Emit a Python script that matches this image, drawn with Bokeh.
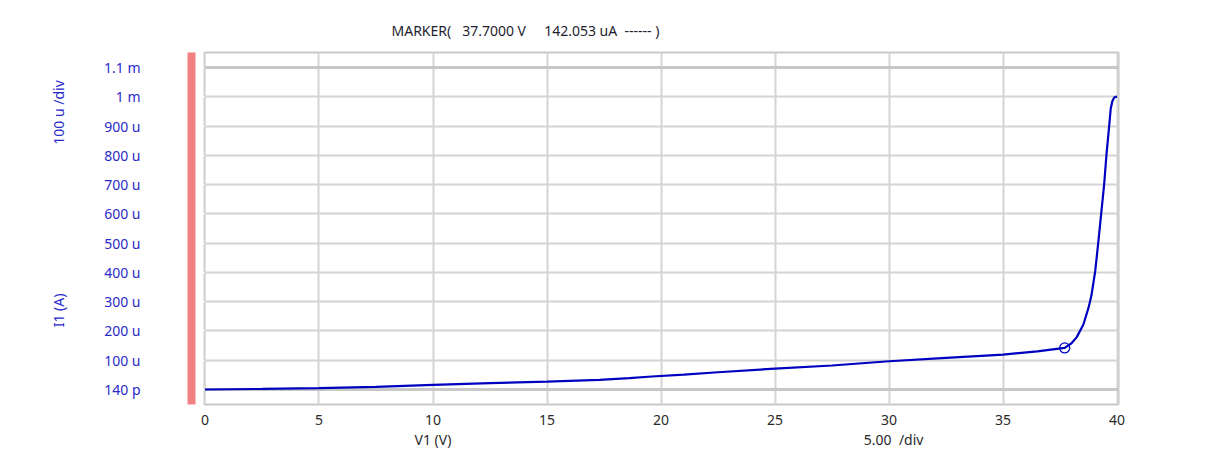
from math import pi
from bokeh.plotting import figure
from bokeh.models import Range1d, LinearAxis, FixedTicker, Grid
from bokeh.embed import file_html
from bokeh.resources import INLINE

# ---- data ----
v1_volts = [0, 2.5, 5, 7.5, 10, 12.5, 15, 17.3, 18.6, 19.6, 21, 22.5, 25, 27.5,
            30, 32.5, 35, 36.5, 37.7, 38.0, 38.23, 38.52, 38.74, 38.87, 39.04,
            39.17, 39.3, 39.43, 39.53, 39.65, 39.72, 39.79, 39.86, 39.92, 40.0]
i1_uA = [0.00014, 2, 5, 9, 16, 21.5, 27, 32.8, 38.6, 44.4, 51, 59, 71.5, 82,
         96.5, 108, 119.5, 130, 142.053, 158, 179, 222, 278, 320, 405,
         500, 600, 700, 800, 900, 960, 985, 996, 1000, 1000]
i1_amps = [u * 1e-6 for u in i1_uA]

marker_v = [37.7]
marker_i = [142.053e-6]

x_ticks = [0, 5, 10, 15, 20, 25, 30, 35, 40]
y_ticks = [0.0, 1e-4, 2e-4, 3e-4, 4e-4, 5e-4, 6e-4, 7e-4, 8e-4, 9e-4, 1e-3, 1.1e-3]
y_tick_labels = ["140 p", "100 u", "200 u", "300 u", "400 u", "500 u", "600 u",
                 "700 u", "800 u", "900 u", "1 m", "1.1 m"]

NB = "\u00a0"
title_text = ("MARKER(" + NB * 3 + "37.7000 V" + NB * 5 + "142.053 uA" + NB * 2
              + "------" + NB + ")")
y_title = "I1 (A)"
y_div = "100 u /div"
x_title = "V1 (V)"
x_div = "5.00" + NB * 2 + "/div"

# where the axis captions sit, in axis units (layout, not data)
x_caption_at = [10.0, 30.2]
y_caption_at = [0.27e-3, 0.9464e-3]

FONT = "Noto Sans"
BLUE_TXT = "#2a2ac8"
DARK_TXT = "#2a2a2a"
GRID = "#d4d4d4"

p = figure(width=1210, height=465, output_backend="svg", toolbar_location=None,
           x_axis_location=None, y_axis_location=None,
           x_range=Range1d(-0.02, 40.06),
           y_range=Range1d(-0.0000512, 0.0011513),
           min_border_left=204, min_border_top=52, min_border_right=92,
           min_border_bottom=61)
p.outline_line_color = "#c8c8c8"
p.outline_line_width = 2
p.background_fill_color = "white"
p.border_fill_color = "white"

p.title.text = title_text
p.title.align = "left"
p.title.offset = 187
p.title.standoff = 25
p.title.text_font = FONT
p.title.text_font_size = "14px"
p.title.text_font_style = "normal"
p.title.text_color = "#1e1e30"

# inner spacer axis (white gap between frame and red bar)
spacer = LinearAxis(ticker=FixedTicker(ticks=y_ticks), axis_line_color=None,
                    major_label_overrides={t: "" for t in y_ticks},
                    major_tick_out=13, major_tick_in=0, minor_tick_out=0,
                    minor_tick_in=0, major_tick_line_color="white",
                    minor_tick_line_color=None, major_label_standoff=0)
p.add_layout(spacer, "left")

yaxis = LinearAxis(ticker=FixedTicker(ticks=y_ticks),
                   major_label_overrides={t: l for t, l in zip(y_ticks, y_tick_labels)},
                   axis_line_color="#f08080", axis_line_width=8,
                   major_tick_line_color=None, minor_tick_line_color=None,
                   major_tick_out=0, major_tick_in=0,
                   major_label_standoff=51,
                   major_label_text_font=FONT, major_label_text_font_size="14px",
                   major_label_text_color=BLUE_TXT)
p.add_layout(yaxis, "left")

ycap = LinearAxis(ticker=FixedTicker(ticks=y_caption_at),
                  major_label_overrides={y_caption_at[0]: y_title, y_caption_at[1]: y_div},
                  major_label_orientation="vertical",
                  axis_line_color=None, major_tick_line_color=None,
                  minor_tick_line_color=None, major_tick_out=0, major_tick_in=0,
                  major_label_standoff=33,
                  major_label_text_font=FONT, major_label_text_font_size="14px",
                  major_label_text_color=BLUE_TXT)
p.add_layout(ycap, "left")

xaxis = LinearAxis(ticker=FixedTicker(ticks=x_ticks),
                   axis_line_color=None, major_tick_line_color=None,
                   minor_tick_line_color=None, major_tick_out=0, major_tick_in=0,
                   major_label_standoff=10,
                   major_label_text_font=FONT, major_label_text_font_size="14px",
                   major_label_text_color=DARK_TXT)
p.add_layout(xaxis, "below")

xcap = LinearAxis(ticker=FixedTicker(ticks=x_caption_at),
                  major_label_overrides={x_caption_at[0]: x_title, x_caption_at[1]: x_div},
                  axis_line_color=None, major_tick_line_color=None,
                  minor_tick_line_color=None, major_tick_out=0, major_tick_in=0,
                  major_label_standoff=2,
                  major_label_text_font=FONT, major_label_text_font_size="14px",
                  major_label_text_color=DARK_TXT)
p.add_layout(xcap, "below")

p.add_layout(Grid(dimension=0, ticker=FixedTicker(ticks=x_ticks),
                  grid_line_color=GRID, grid_line_width=2))
p.add_layout(Grid(dimension=1, ticker=FixedTicker(ticks=y_ticks),
                  grid_line_color=GRID, grid_line_width=2))
p.add_layout(Grid(dimension=1, ticker=FixedTicker(ticks=[y_ticks[0], y_ticks[-1]]),
                  grid_line_color="#c8c8c8", grid_line_width=3))

p.line(v1_volts, i1_amps, line_color="#0000c0", line_width=2.2)
p.scatter(marker_v, marker_i, marker="circle", size=10, fill_color=None,
          line_color="#0000c0", line_width=1.3)

open("out.html", "w").write(file_html(p, INLINE))
